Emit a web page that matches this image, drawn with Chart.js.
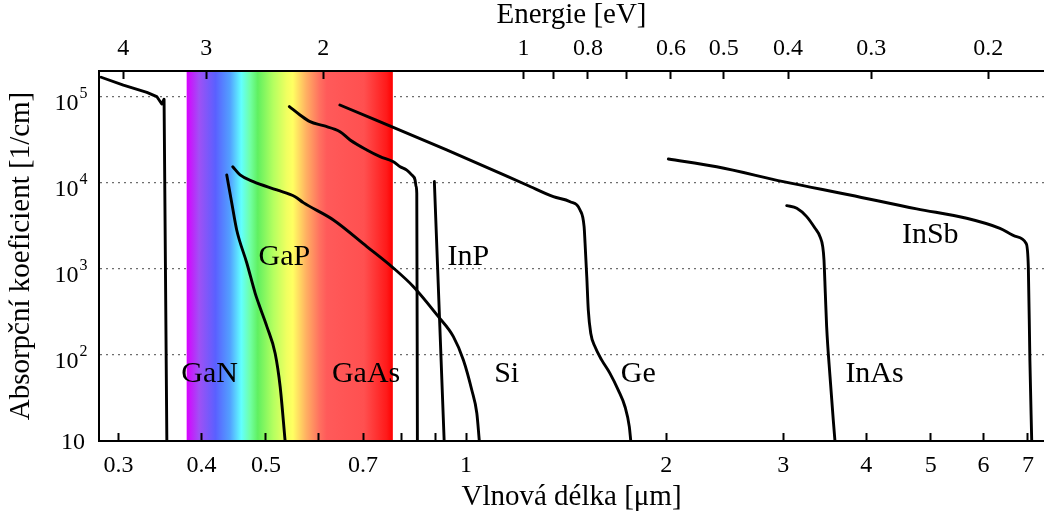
<!DOCTYPE html>
<html>
<head>
<meta charset="utf-8">
<script src="https://cdn.jsdelivr.net/npm/chart.js@4.4.1/dist/chart.umd.min.js"></script>
<style>
  html, body { margin: 0; padding: 0; background: #fff; overflow: hidden; }
  canvas { display: block; }
</style>
</head>
<body>
<canvas id="chart" width="1044" height="522"></canvas>
<script>
// Absorption edges of common semiconductors: wavelength [µm] vs. absorption coefficient [1/cm]
const ganWl  = [0.2826, 0.3052, 0.3311, 0.3426, 0.3486, 0.3514, 0.3548];
const ganAbs = [167500, 136000, 112000, 100000, 82000, 93000, 10];

const gapWl  = [0.4366, 0.4443, 0.4519, 0.4681, 0.4818, 0.4874, 0.5017, 0.5163, 0.5253, 0.5344];
const gapAbs = [12300, 5760, 2820, 1160, 519, 397, 213, 104, 42.7, 10];

const siWl  = [0.4458, 0.4572, 0.4787, 0.5193, 0.5532, 0.5692, 0.6317, 0.7092, 0.7775, 0.8334, 0.9086, 0.957, 0.9907, 1.02, 1.038, 1.047];
const siAbs = [15300, 12300, 10300, 8230, 6870, 5860, 3690, 1810, 1020, 620, 278, 163, 87.3, 39.1, 21, 10];

const gaasWl  = [0.5423, 0.5627, 0.5826, 0.6104, 0.6463, 0.6693, 0.7092, 0.7425, 0.7775, 0.7959, 0.8144, 0.8285, 0.8382, 0.8411, 0.8431, 0.8449];
const gaasAbs = [76400, 61100, 51100, 45900, 39100, 31300, 24000, 20100, 17500, 15300, 14000, 12300, 10700, 9000, 7530, 10];

const inpWl  = [0.896, 0.927];
const inpAbs = [10300, 10];

const geWl  = [0.646, 0.935, 1.234, 1.353, 1.434, 1.484, 1.505, 1.51, 1.519, 1.527, 1.54, 1.563, 1.6, 1.646, 1.694, 1.734, 1.76, 1.769];
const geAbs = [79800, 24000, 9400, 6870, 6010, 4820, 3080, 1980, 809, 332, 178, 124, 87, 61, 39, 25, 14.7, 10];

const inasWl  = [3.036, 3.144, 3.253, 3.349, 3.407, 3.439, 3.454, 3.47, 3.486, 3.527, 3.567, 3.588];
const inasAbs = [5410, 5050, 4030, 2950, 2360, 1810, 1270, 519, 213, 55.8, 17.5, 10];

const insbWl  = [2.015, 2.382, 3.0, 3.779, 4.762, 5.661, 6.353, 6.731, 6.953, 7.009, 7.047, 7.092];
const insbAbs = [18800, 15300, 10300, 7190, 4960, 3860, 2950, 2360, 1980, 1060, 87.3, 10];

// Visible band [µm]
const visibleBand = [0.38, 0.776];

// Axis ticks
const wlTicks  = [0.3, 0.4, 0.5, 0.6, 0.7, 0.8, 0.9, 1, 2, 3, 4, 5, 6, 7];
const wlLabels = [0.3, 0.4, 0.5, 0.7, 1, 2, 3, 4, 5, 6, 7];
const eTicks   = [4, 3, 2, 1, 0.9, 0.8, 0.7, 0.6, 0.5, 0.4, 0.3, 0.2];
const eLabels  = [4, 3, 2, 1, 0.8, 0.6, 0.5, 0.4, 0.3, 0.2];
const absTicks = [10, 100, 1000, 10000, 100000];

// Material names and where they sit (wavelength, absorption)
const names  = ['GaN', 'GaP', 'GaAs', 'InP', 'Si', 'Ge', 'InAs', 'InSb'];
const nameAt = [[0.4114, 48.4], [0.533, 1107], [0.7073, 48.4], [1.008, 1107], [1.151, 48.4], [1.816, 48.4], [4.115, 48.4], [4.991, 1977]];

// Scale ranges and the energy/wavelength factor of the top scale (E [eV] = EV_UM / λ [µm])
const WL_MIN = 0.2805, WL_MAX = 7.40;
const ABS_MIN = 10, ABS_MAX = 198000;
const EV_UM = 1.22;

const FAMILY = '"Liberation Serif", "DejaVu Serif", serif';
Chart.defaults.font.family = FAMILY;
Chart.defaults.color = '#000';

function series(label, wl, abs, smooth) {
  return {
    label,
    data: wl.map((w, i) => ({ x: w, y: abs[i] })),
    borderColor: '#000',
    borderWidth: 2.9,
    borderJoinStyle: 'round',
    borderCapStyle: 'round',
    pointRadius: 0,
    fill: false,
    tension: smooth ? 0.4 : 0,
    cubicInterpolationMode: smooth ? 'monotone' : 'default',
    xAxisID: 'x',
    yAxisID: 'y'
  };
}

// Rainbow strip behind the curves, above the dotted grid
const spectrumPlugin = {
  id: 'spectrum',
  beforeDatasetsDraw(chart) {
    const { ctx, chartArea, scales } = chart;
    const x0 = scales.x.getPixelForValue(visibleBand[0]);
    const x1 = scales.x.getPixelForValue(visibleBand[1]);
    const g = ctx.createLinearGradient(x0, 0, x1, 0);
    const stops = [
      [0.00, '#d800ff'], [0.06, '#a050f5'], [0.14, '#5a60ff'], [0.21, '#52a0ff'],
      [0.265, '#62ffff'], [0.31, '#70ffa0'], [0.345, '#60f060'], [0.42, '#b4ff60'],
      [0.485, '#f0ff60'], [0.515, '#ffff62'], [0.58, '#ffb062'], [0.645, '#ff7060'],
      [0.68, '#ff5a5a'], [0.86, '#ff5050'], [0.97, '#ff1a1a'], [1.00, '#ff0000']
    ];
    stops.forEach(([o, c]) => g.addColorStop(o, c));
    ctx.save();
    ctx.fillStyle = g;
    ctx.fillRect(x0, chartArea.top, x1 - x0, chartArea.bottom - chartArea.top);
    ctx.restore();
  }
};

// Material names inside the plot
const namesPlugin = {
  id: 'names',
  afterDatasetsDraw(chart) {
    const { ctx, scales } = chart;
    ctx.save();
    ctx.fillStyle = '#000';
    ctx.font = '30px ' + FAMILY;
    ctx.textAlign = 'center';
    ctx.textBaseline = 'alphabetic';
    names.forEach((n, i) => {
      ctx.fillText(n, scales.x.getPixelForValue(nameAt[i][0]), scales.y.getPixelForValue(nameAt[i][1]));
    });
    ctx.restore();
  }
};

// Power-of-ten labels of the absorption axis
const powerLabelsPlugin = {
  id: 'powerLabels',
  afterDraw(chart) {
    const { ctx, scales } = chart;
    ctx.save();
    ctx.fillStyle = '#000';
    ctx.textBaseline = 'alphabetic';
    scales.y.ticks.forEach(t => {
      const py = scales.y.getPixelForValue(t.value);
      const exp = Math.round(Math.log10(t.value));
      ctx.font = '24px ' + FAMILY;
      ctx.textAlign = 'right';
      if (exp === 1) {
        ctx.fillText('10', 85, py + 7.5);
      } else {
        ctx.fillText('10', 78.5, py + 13);
        ctx.font = '16px ' + FAMILY;
        ctx.textAlign = 'left';
        ctx.fillText(String(exp), 79.5, py + 1.5);
      }
    });
    ctx.restore();
  }
};

new Chart(document.getElementById('chart'), {
  type: 'line',
  data: {
    datasets: [
      series('GaN', ganWl, ganAbs, false),
      series('GaP', gapWl, gapAbs, true),
      series('Si', siWl, siAbs, true),
      series('GaAs', gaasWl, gaasAbs, true),
      series('InP', inpWl, inpAbs, false),
      series('Ge', geWl, geAbs, true),
      series('InAs', inasWl, inasAbs, true),
      series('InSb', insbWl, insbAbs, true)
    ]
  },
  options: {
    responsive: false,
    animation: false,
    devicePixelRatio: 1,
    layout: { padding: 0 },
    plugins: { legend: { display: false }, tooltip: { enabled: false } },
    scales: {
      x: {
        type: 'logarithmic',
        position: 'bottom',
        min: WL_MIN, max: WL_MAX, bounds: 'data',
        afterBuildTicks: s => { s.ticks = wlTicks.map(v => ({ value: v })); },
        afterFit: s => { s.height = 81; s.paddingLeft = 0; s.paddingRight = 0; },
        ticks: {
          autoSkip: false, maxRotation: 0, minRotation: 0, padding: 18.6,
          font: { size: 24 }, color: '#000',
          callback: v => wlLabels.includes(v) ? String(v) : ''
        },
        grid: { drawOnChartArea: false, drawTicks: true, tickLength: -8, tickWidth: 2, tickColor: '#000', color: '#000', z: 1 },
        border: { display: true, color: '#000', width: 2, z: 1 },
        title: { display: true, text: 'Vlnová délka [μm]', color: '#000', font: { size: 29, lineHeight: 1 }, padding: { top: 0, bottom: 10.5 } }
      },
      xTop: {
        type: 'logarithmic',
        position: 'top',
        min: WL_MIN, max: WL_MAX, bounds: 'data',
        afterBuildTicks: s => { s.ticks = eTicks.map(e => ({ value: EV_UM / e })); },
        afterFit: s => { s.height = 71; s.paddingLeft = 0; s.paddingRight = 0; },
        ticks: {
          autoSkip: false, maxRotation: 0, minRotation: 0, padding: 15.6,
          font: { size: 24 }, color: '#000',
          callback: (v, i) => eLabels.includes(eTicks[i]) ? String(eTicks[i]) : ''
        },
        grid: { drawOnChartArea: false, drawTicks: true, tickLength: -8, tickWidth: 2, tickColor: '#000', color: '#000', z: 1 },
        border: { display: true, color: '#000', width: 2, z: 1 },
        title: { display: true, text: 'Energie [eV]', color: '#000', font: { size: 29, lineHeight: 1 }, padding: { top: 1.3, bottom: 0 } }
      },
      y: {
        type: 'logarithmic',
        position: 'left',
        min: ABS_MIN, max: ABS_MAX, bounds: 'data',
        afterBuildTicks: s => { s.ticks = absTicks.map(v => ({ value: v })); },
        afterFit: s => { s.width = 99; s.paddingTop = 0; s.paddingBottom = 0; },
        ticks: { display: false },
        grid: { drawTicks: false, color: '#6e6e6e', lineWidth: 1.2 },
        border: { display: true, color: '#000', width: 2, dash: [2, 4] },
        title: { display: true, text: 'Absorpční koeficient [1/cm]', color: '#000', font: { size: 29, lineHeight: 1 }, padding: { top: 6.5, bottom: 0 } }
      }
    }
  },
  plugins: [spectrumPlugin, namesPlugin, powerLabelsPlugin]
});
</script>
</body>
</html>
